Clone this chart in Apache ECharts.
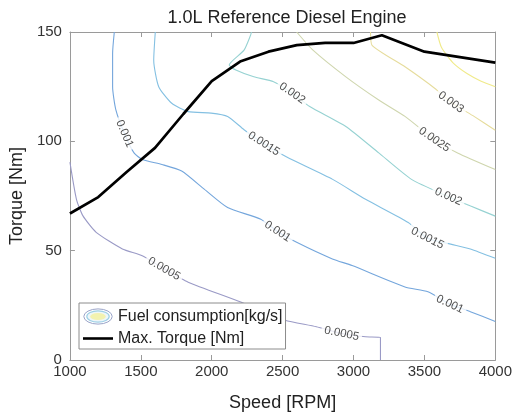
<!DOCTYPE html>
<html><head><meta charset="utf-8">
<script src="https://cdn.jsdelivr.net/npm/echarts@6/dist/echarts.min.js"></script>
<style>html,body{margin:0;padding:0;background:#fff}#c{width:515px;height:417px}</style>
</head><body><div id="c"></div>
<script>
const FONT = '"Liberation Sans", Arial, Helvetica, sans-serif';

// Max torque curve
const maxTorqueSpeed = [1000,1200,1400,1600,1800,2000,2200,2400,2600,2800,3000,3200,3500,4000];
const maxTorque      = [67,74.5,86,97,112.5,127.5,136.5,141,144,145,145,148.5,141,136];

// Fuel consumption contour levels [kg/s]: points [speed, torque]
const contour0005 = [[1000,90.5],[1046,73.5],[1092,65.9],[1185,58.4],[1370,50.8],[1510,47.7],[1664,41.7],[1834,35.6],[2205,26.5],[2358,22.1],[2517,18.2],[2738,15.2],[2916,12.1],[3085,10.6],[3190,10.3],[3190,0]];
const labels0005  = [[1664,41.7],[2916,12.1]];
const contour001  = [[1313,150],[1301,140.2],[1301,125],[1324,114.4],[1385,103.5],[1452,94.7],[1510,91.7],[1649,89.4],[1788,86.4],[1949,78],[2112,69.7],[2346,64.4],[2464,58.8],[2599,53.8],[2851,46.2],[2990,43.2],[3363,33.4],[3525,31.2],[3680,25.5],[3824,22.1],[4000,17.6]];
const labels001   = [[1385,103.5],[2464,58.8],[3680,25.5]];
const contour0015 = [[1602,150],[1591,137.1],[1626,125],[1718,117.4],[1834,113.6],[1996,112.9],[2112,111.4],[2228,105.3],[2367,98.9],[2529,92.8],[2853,82.6],[3085,73.5],[3386,62.9],[3521,55.7],[3685,53],[3824,50.8],[4000,46.5]];
const labels0015  = [[2367,98.9],[3521,55.7]];
const contour002  = [[2280,150],[2274,148.5],[2228,141.7],[2123,134.9],[2170,132.6],[2297,129.5],[2436,127.3],[2568,122],[2691,115.9],[2946,106.8],[3178,94.7],[3409,82.6],[3669,74.7],[3826,70.4],[4000,65.8]];
const labels002   = [[2568,122],[3669,74.7]];
const contour0025 = [[2599,150],[2714,141.7],[2946,129.5],[3178,118.9],[3363,111.4],[3570,100.8],[3734,94.7],[4000,87.1]];
const labels0025  = [[3570,100.8]];
const contour003  = [[3120,150],[3131,143.9],[3363,134.1],[3572,124.3],[3687,117.9],[3850,111.4],[4000,105.1]];
const labels003   = [[3687,117.9]];
const contour0035 = [[3588,150],[3620,143],[3700,136],[3800,131],[3900,127.5],[4000,125]];
const labels0035  = [];

const levelNames = ['0.0005','0.001','0.0015','0.002','0.0025','0.003','0.0035'];
const levelLines = [contour0005,contour001,contour0015,contour002,contour0025,contour003,contour0035];
const levelLabels = [labels0005,labels001,labels0015,labels002,labels0025,labels003,labels0035];
const levelColors = ['#9a9ac6','#74a6dc','#84c0e2','#96d2d2','#cfd6ae','#e6dc9c','#f0ea8a'];

const FUEL = 'Fuel consumption[kg/s]';
const TORQ = 'Max. Torque [Nm]';

const fuelSvg = "<svg xmlns='http://www.w3.org/2000/svg' width='60' height='34' viewBox='0 0 30 17'>" +
  "<ellipse cx='15' cy='8.5' rx='14.2' ry='7.6' fill='#ffffff' stroke='#9aa4c8' stroke-width='1'/>" +
  "<ellipse cx='15' cy='8.5' rx='11.2' ry='5.6' fill='#eef6f8' stroke='#9ccfe6' stroke-width='1.2'/>" +
  "<ellipse cx='15' cy='8.5' rx='7.8' ry='3.6' fill='#f2f2b0'/></svg>";
const lineSvg = "<svg xmlns='http://www.w3.org/2000/svg' width='60' height='34' viewBox='0 0 30 17'>" +
  "<line x1='0' y1='8.5' x2='30' y2='8.5' stroke='#000' stroke-width='2.6'/></svg>";
const fuelIcon = 'image://data:image/svg+xml;charset=utf-8,' + encodeURIComponent(fuelSvg);
const lineIcon = 'image://data:image/svg+xml;charset=utf-8,' + encodeURIComponent(lineSvg);

const chart = echarts.init(document.getElementById('c'), null, {renderer:'canvas'});

const axisCommon = {
  type:'value', splitLine:{show:false},
  axisLine:{show:true, onZero:false, lineStyle:{color:'#9a9a9a', width:1}},
  axisTick:{show:true, inside:true, length:5, lineStyle:{color:'#9a9a9a'}}
};

const series = levelLines.map((line, i) => ({
  type:'line', name:FUEL, data:line, symbol:'none', showSymbol:false, smooth:0.2,
  lineStyle:{color:levelColors[i], width:1.1}, itemStyle:{color:levelColors[i]},
  z:2, silent:true, animation:false
}));
series.push({
  type:'line', name:TORQ, data:maxTorqueSpeed.map((s,i)=>[s,maxTorque[i]]),
  symbol:'none', showSymbol:false, lineStyle:{color:'#000', width:2.7}, itemStyle:{color:'#000'},
  z:5, animation:false
});

const option = {
  animation:false,
  backgroundColor:'#fff',
  title:{text:'1.0L Reference Diesel Engine', left:282, top:4, textAlign:'center',
    textStyle:{fontFamily:FONT, fontSize:18, fontWeight:'normal', color:'#222'}},
  grid:{left:67, right:17, top:32, bottom:55, containLabel:false},
  legend:{
    orient:'vertical', left:79, top:303, selectedMode:false,
    backgroundColor:'#fff', borderColor:'#8c8c8c', borderWidth:1, padding:[5,3,2,4],
    itemWidth:30, itemHeight:17, itemGap:5,
    textStyle:{fontFamily:FONT, fontSize:16, color:'#222'},
    data:[{name:FUEL, icon:fuelIcon},{name:TORQ, icon:lineIcon}]
  },
  xAxis:[
    Object.assign({}, axisCommon, {min:1000, max:4000, interval:500, position:'bottom',
      axisLabel:{color:'#333', fontSize:15, fontFamily:FONT, margin:4, formatter:v=>String(v)},
      name:'Speed [RPM]', nameLocation:'middle', nameGap:34,
      nameTextStyle:{fontFamily:FONT, fontSize:18, color:'#222'}}),
    Object.assign({}, axisCommon, {min:1000, max:4000, interval:500, position:'top', axisLabel:{show:false}})
  ],
  yAxis:[
    Object.assign({}, axisCommon, {min:0, max:150, interval:50, position:'left',
      axisLabel:{color:'#333', fontSize:15, fontFamily:FONT, margin:8, formatter:v=>String(v)},
      name:'Torque [Nm]', nameLocation:'middle', nameGap:40, nameRotate:90,
      nameTextStyle:{fontFamily:FONT, fontSize:18, color:'#222'}}),
    Object.assign({}, axisCommon, {min:0, max:150, interval:50, position:'right', axisLabel:{show:false}})
  ],
  series: series
};
chart.setOption(option);

// contour labels, rotated along the contour
const labelItems = [];
levelLines.forEach((line, i) => {
  const px = line.map(p => chart.convertToPixel({xAxisIndex:0, yAxisIndex:0}, p));
  levelLabels[i].forEach(lp => {
    const q = chart.convertToPixel({xAxisIndex:0, yAxisIndex:0}, lp);
    let bi = 0, bd = Infinity;
    px.forEach((p, k) => { const d = (p[0]-q[0])**2 + (p[1]-q[1])**2; if (d < bd) { bd = d; bi = k; } });
    const a = px[Math.max(bi-1,0)], b = px[Math.min(bi+1,px.length-1)];
    let ang = -Math.atan2(b[1]-a[1], b[0]-a[0]) * 180 / Math.PI;
    if (ang > 90) ang -= 180;
    if (ang < -90) ang += 180;
    labelItems.push({value:lp, label:{rotate:ang, formatter:levelNames[i]}});
  });
});
series.push({
  type:'scatter', name:'contour labels', data:labelItems, symbol:'circle', symbolSize:1,
  itemStyle:{color:'rgba(0,0,0,0)'}, z:3, silent:true, animation:false,
  label:{show:true, position:'inside', fontFamily:FONT, fontSize:11.5, color:'#222',
    backgroundColor:'#fff', padding:[0,3]}
});
chart.setOption({series: series});
</script>
</body></html>
